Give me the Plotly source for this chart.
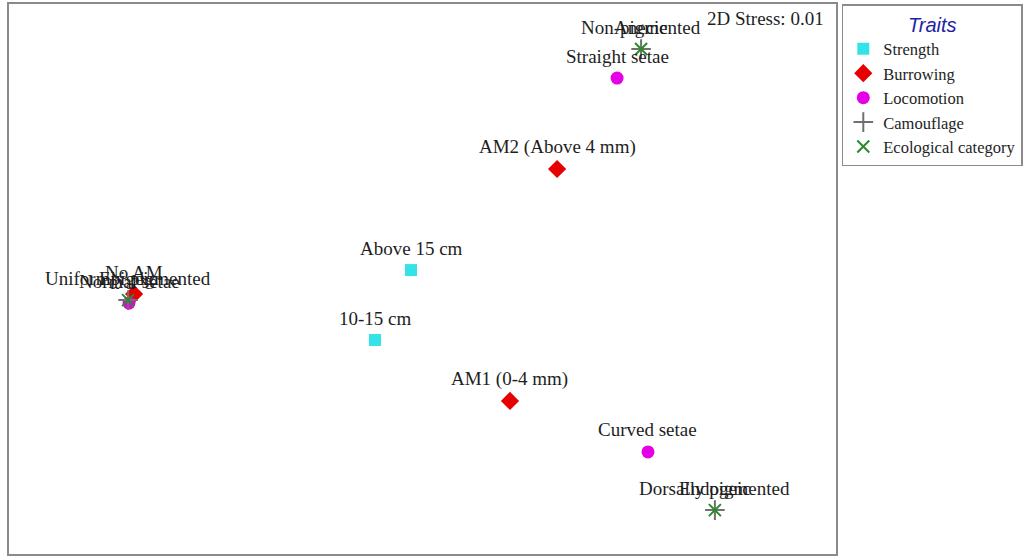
import plotly.graph_objects as go

# MDS coordinates
strength_labels = ["Above 15 cm", "10-15 cm"]
strength_x = [-0.03, -0.15]
strength_y = [0.033, -0.20]

burrowing_labels = ["AM2 (Above 4 mm)", "AM1 (0-4 mm)", "No AM"]
burrowing_x = [0.457, 0.300, -0.953]
burrowing_y = [0.370, -0.403, -0.047]

locomotion_labels = ["Straight setae", "Curved setae", "Normal setae"]
locomotion_x = [0.657, 0.760, -0.970]
locomotion_y = [0.673, -0.573, -0.077]

camouflage_labels = ["Non-pigmented", "Dorsally pigmented", "Uniformly pigmented"]
camouflage_x = [0.737, 0.983, -0.973]
camouflage_y = [0.770, -0.767, -0.067]

ecological_labels = ["Anecic", "Endogeic", "Epigeic"]
ecological_x = [0.737, 0.983, -0.973]
ecological_y = [0.770, -0.767, -0.067]

stress_text = "2D Stress: 0.01"

FONT = "Liberation Serif, Times New Roman, serif"
TXT = "#1e1e1e"

groups = [
    ("Strength", strength_labels, strength_x, strength_y, "square", "#33e3e8", 12, 0),
    ("Burrowing", burrowing_labels, burrowing_x, burrowing_y, "diamond", "#e60000", 14, 0),
    ("Locomotion", locomotion_labels, locomotion_x, locomotion_y, "circle", "#e600e6", 13, 0),
    ("Camouflage", camouflage_labels, camouflage_x, camouflage_y, "cross-thin-open", "#707070", 14, 2),
    ("Ecological category", ecological_labels, ecological_x, ecological_y, "x-thin-open", "#2a8a2a", 12, 2),
]

fig = go.Figure()
for name, labels, xs, ys, sym, col, size, lw in groups:
    marker = dict(symbol=sym, color=col, size=size)
    if lw:
        marker["line"] = dict(color=col, width=lw)
    else:
        marker["line"] = dict(width=0)
    fig.add_trace(go.Scatter(x=xs, y=ys, mode="markers", name=name, marker=marker,
                             hoverinfo="text", text=labels))
    for lab, x, y in zip(labels, xs, ys):
        fig.add_annotation(x=x, y=y, text=lab, showarrow=False, yshift=22,
                           font=dict(family=FONT, size=19, color=TXT))

fig.add_annotation(xref="paper", yref="paper", x=0.988, y=0.996, xanchor="right", yanchor="top",
                   text=stress_text, showarrow=False,
                   font=dict(family=FONT, size=19, color=TXT))

axis_common = dict(showgrid=False, zeroline=False, showticklabels=False, ticks="",
                   showline=True, mirror=True, linecolor="#8a8a8a", linewidth=2)
fig.update_xaxes(range=[-1.37, 1.3867], **axis_common)
fig.update_yaxes(range=[-0.9133, 0.92], **axis_common)

fig.update_layout(
    width=1026, height=556,
    margin=dict(l=9, r=190, t=4, b=2),
    paper_bgcolor="white", plot_bgcolor="white",
    showlegend=True,
    legend=dict(
        x=1.007, y=1.0, xanchor="left", yanchor="top",
        bordercolor="#8a8a8a", borderwidth=1.5,
        font=dict(family=FONT, size=16.5, color=TXT),
        title=dict(text="<i>Traits</i>", side="top center",
                   font=dict(family="Liberation Sans, Arial, sans-serif", size=20, color="#1f22a6")),
        tracegroupgap=0, itemwidth=30,
    ),
)

fig.write_html("out.html", config={"displayModeBar": False},
               post_script="document.body.style.margin='0px';document.body.style.overflow='hidden';")
